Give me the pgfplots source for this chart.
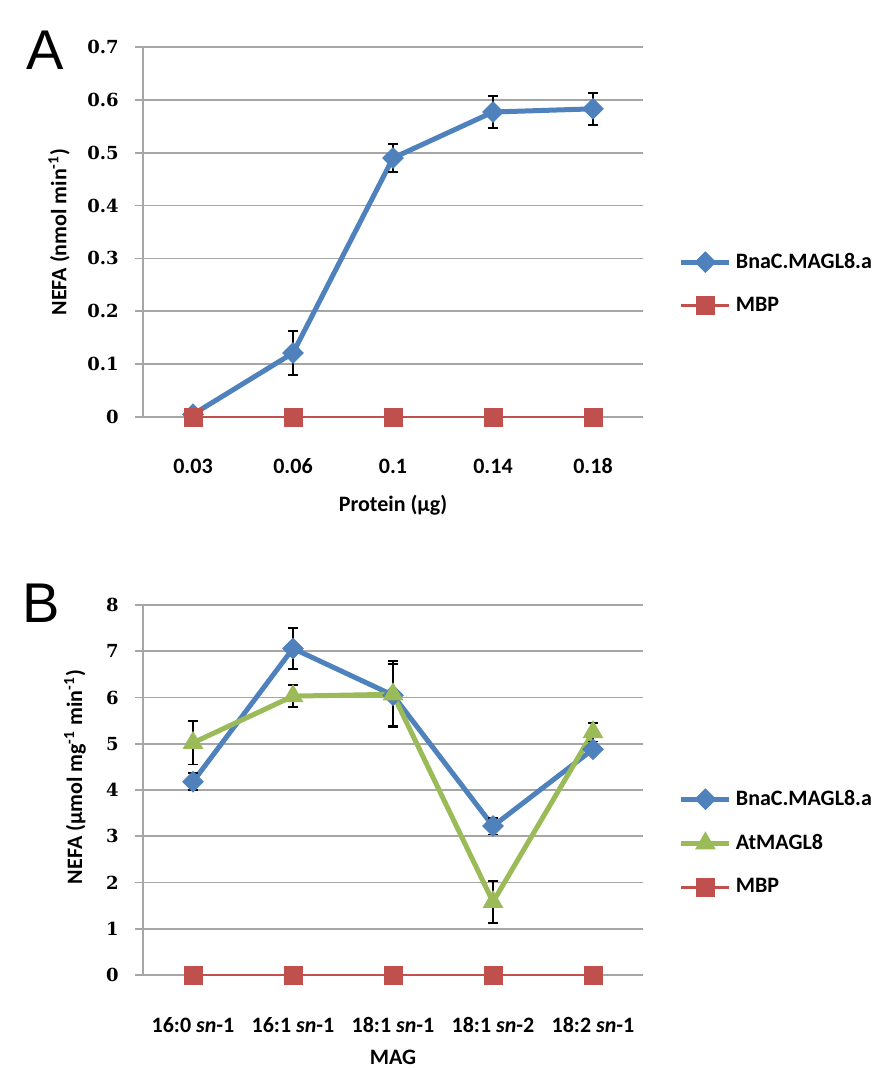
\documentclass[border=0pt]{standalone}
\usepackage{fontspec}
\setmainfont{Carlito}
\newfontfamily\tickfont{DejaVu Serif}
\newfontfamily\letterfont{Liberation Sans}
\usepackage{pgfplots}
\pgfplotsset{compat=1.18}
\definecolor{cblue}{HTML}{4F81BD}
\definecolor{cred}{HTML}{C0504D}
\definecolor{cgreen}{HTML}{9BBB59}
\definecolor{cgrid}{HTML}{A6A6A6}
\pgfplotsset{mystyle/.style={
  scale only axis, width=250pt, height=185pt,
  xmin=-0.5, xmax=4.5, xtick={0,...,4},
  axis x line*=bottom, axis y line*=left,
  axis line style={cgrid, line width=0.9pt},
  ymajorgrids, grid style={cgrid, line width=0.9pt},
  tick align=outside, major tick length=4pt,
  ytick style={cgrid, line width=0.9pt},
  xtick style={draw=none},
  /pgf/number format/assume math mode=true,
  yticklabel style={font=\tickfont\bfseries\fontsize{9}{10}\selectfont, anchor=east, inner sep=0pt, xshift=-8pt},
  xticklabel style={font=\bfseries\fontsize{11}{13}\selectfont, anchor=center, inner sep=0pt, yshift=-20.5pt},
  label style={font=\bfseries\fontsize{11}{13}\selectfont},
  legend style={draw=none, fill=none, font=\bfseries\fontsize{11}{13}\selectfont, anchor=west, row sep=9pt},
  legend cell align=left,
  legend image code/.code={\draw[mark repeat=2,mark phase=2,##1] plot coordinates {(0pt,0pt) (12pt,0pt) (24pt,0pt)};},
  clip=false,
  error bars/error bar style={black, line width=0.9pt},
  error bars/error mark options={black, line width=0.9pt, mark size=2.5pt, rotate=90},
}}
\pgfplotsset{
  bluestyle/.style={color=cblue, line width=2.5pt, mark=square*, mark size=3.6pt, mark options={rotate=45, line width=0.5pt, fill=cblue, solid}},
  redstyle/.style={color=cred, line width=1.4pt, mark=square*, mark size=4.5pt, mark options={line width=0.5pt, fill=cred, solid}},
  greenstyle/.style={color=cgreen, line width=2.5pt, mark=triangle*, mark size=5.5pt, mark options={line width=0.5pt, fill=cgreen, solid}},
}
\begin{document}
\begin{tikzpicture}
\path[use as bounding box] (0pt,0pt) rectangle (442pt,-535pt);
\node[font=\letterfont\fontsize{28}{30}\selectfont] at (22.5pt,-25pt) {A};
\node[font=\letterfont\fontsize{28}{30}\selectfont] at (20.5pt,-301.5pt) {B};
\begin{axis}[mystyle, at={(71.5pt,-208.5pt)}, anchor=south west,
  ymin=0, ymax=0.7, ytick={0,0.1,0.2,0.3,0.4,0.5,0.6,0.7},
  xticklabels={0.03,0.06,0.1,0.14,0.18},
  xlabel={Protein (µg)}, xlabel style={at={(axis description cs:0.5,-0.238)}, anchor=center},
  ylabel={NEFA (nmol min\textsuperscript{-1})}, ylabel style={at={(axis description cs:-0.168,0.5)}, anchor=center},
  legend style={at={(1.059,0.36)}},
]
\addplot[bluestyle, error bars/.cd, y dir=both, y explicit] coordinates {
  (0,0.005) +- (0,0)
  (1,0.121) +- (0,0.042)
  (2,0.490) +- (0,0.026)
  (3,0.577) +- (0,0.030)
  (4,0.583) +- (0,0.030)
};
\addlegendentry{BnaC.MAGL8.a}
\addplot[redstyle] coordinates {(0,0) (1,0) (2,0) (3,0) (4,0)};
\addlegendentry{MBP}
\end{axis}
\begin{axis}[mystyle, at={(71.5pt,-487.5pt)}, anchor=south west,
  ymin=0, ymax=8, ytick={0,1,2,3,4,5,6,7,8},
  xticklabels={{16:0 \textit{sn}-1},{16:1 \textit{sn}-1},{18:1 \textit{sn}-1},{18:1 \textit{sn}-2},{18:2 \textit{sn}-1}},
  xticklabel style={yshift=-0.5pt},
  xlabel={MAG}, xlabel style={at={(axis description cs:0.5,-0.222)}, anchor=center},
  ylabel={NEFA (µmol mg\textsuperscript{-1} min\textsuperscript{-1})}, ylabel style={at={(axis description cs:-0.136,0.535)}, anchor=center},
  legend style={at={(1.059,0.357)}},
]
\addplot[bluestyle, error bars/.cd, y dir=both, y explicit] coordinates {
  (0,4.18) +- (0,0.18)
  (1,7.06) +- (0,0.45)
  (2,6.05) +- (0,0.67)
  (3,3.22) +- (0,0.18)
  (4,4.88) +- (0,0.10)
};
\addlegendentry{BnaC.MAGL8.a}
\addplot[greenstyle, error bars/.cd, y dir=both, y explicit] coordinates {
  (0,5.02) +- (0,0.47)
  (1,6.03) +- (0,0.24)
  (2,6.07) +- (0,0.72)
  (3,1.58) +- (0,0.45)
  (4,5.25) +- (0,0.20)
};
\addlegendentry{AtMAGL8}
\addplot[redstyle] coordinates {(0,0) (1,0) (2,0) (3,0) (4,0)};
\addlegendentry{MBP}
\end{axis}
\end{tikzpicture}
\end{document}
